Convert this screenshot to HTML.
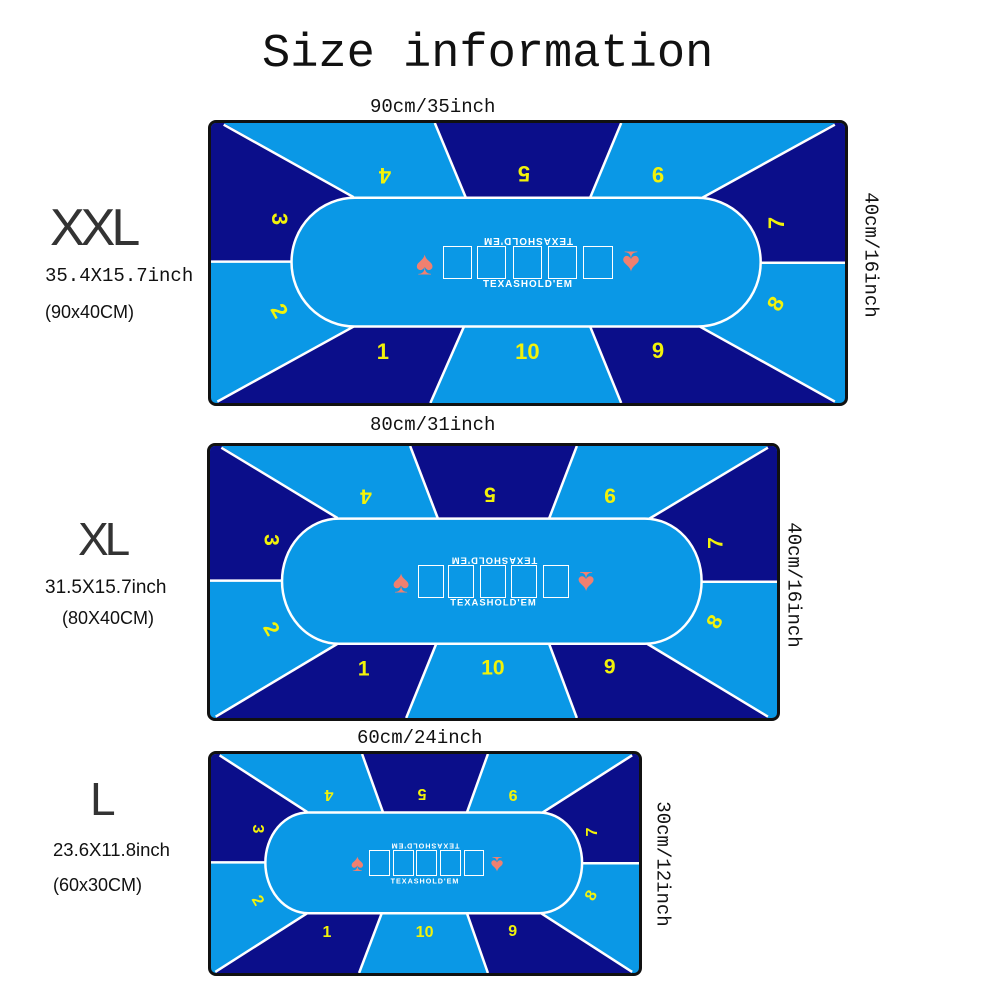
<!DOCTYPE html>
<html><head><meta charset="utf-8"><style>
body{margin:0;background:#fff;width:1000px;height:1000px;position:relative;overflow:hidden;font-family:"Liberation Sans",sans-serif}
.t{position:absolute;white-space:nowrap;color:#111}
.mono{font-family:"Liberation Mono",monospace}
.mat{position:absolute;border:3px solid #111;border-radius:8px;overflow:hidden;background:#0a98e6;box-sizing:border-box}
.mat svg{position:absolute;left:0;top:0;width:100%;height:100%}
.n{position:absolute;color:#f2f20a;font-weight:bold;line-height:1;font-size:var(--f)}
.c{position:absolute;border:1.5px solid #fff;box-sizing:border-box;top:43.9%;height:11.9%}
.sp{position:absolute;color:#f08070;line-height:1;font-size:calc(var(--f)*1.5);top:50%}
.tx{position:absolute;color:#fff;font-weight:bold;letter-spacing:1px;line-height:1;left:50%;font-size:calc(var(--f)*0.45);white-space:nowrap}
.n,.sp,.tx{transform:translate(-50%,-50%) rotate(var(--r,0deg))}
</style></head><body>
<div class="t mono" style="left:262px;top:28px;font-size:47px">Size information</div>
<div class="t mono" style="left:370px;top:96px;font-size:19px">90cm/35inch</div>
<div class="t mono" style="left:370px;top:414px;font-size:19px">80cm/31inch</div>
<div class="t mono" style="left:357px;top:727px;font-size:19px">60cm/24inch</div>
<div class="t mono" style="left:808px;top:244px;font-size:19px;transform:rotate(90deg)">40cm/16inch</div>
<div class="t mono" style="left:731px;top:574px;font-size:19px;transform:rotate(90deg)">40cm/16inch</div>
<div class="t mono" style="left:600px;top:853px;font-size:19px;transform:rotate(90deg)">30cm/12inch</div>
<div class="t" style="left:50px;top:198px;font-size:52px;color:#333;letter-spacing:-4px">XXL</div>
<div class="t mono" style="left:45px;top:265px;font-size:19px">35.4X15.7inch</div>
<div class="t" style="left:45px;top:302px;font-size:18px">(90x40CM)</div>
<div class="t" style="left:78px;top:512px;font-size:46px;color:#333;letter-spacing:-4px">XL</div>
<div class="t" style="left:45px;top:577px;font-size:19px">31.5X15.7inch</div>
<div class="t" style="left:62px;top:608px;font-size:18px">(80X40CM)</div>
<div class="t" style="left:90px;top:772px;font-size:46px;color:#333">L</div>
<div class="t" style="left:53px;top:839px;font-size:18.5px">23.6X11.8inch</div>
<div class="t" style="left:53px;top:875px;font-size:18px">(60x30CM)</div>

<div class="mat" style="left:208px;top:120px;width:640px;height:286px;--f:22px">
<svg viewBox="0 0 1000 1000" preserveAspectRatio="none">
<g fill="#0b0e8a">
<polygon points="0,0 20,0 225,265 225,495 0,495"/>
<polygon points="353,0 647,0 598,267 598,400 402,400 402,267"/>
<polygon points="984,0 1000,0 1000,499 775,499 775,267"/>
<polygon points="598,600 771,600 771,727 984,1000 647,1000 598,727"/>
<polygon points="225,600 399,600 399,727 346,1000 10,1000 225,727"/>
</g>
<g stroke="#fff" stroke-width="2.5" fill="none">
<line x1="20" y1="6" x2="225" y2="265" vector-effect="non-scaling-stroke"/>
<line x1="353" y1="0" x2="402" y2="267" vector-effect="non-scaling-stroke"/>
<line x1="647" y1="0" x2="598" y2="267" vector-effect="non-scaling-stroke"/>
<line x1="984" y1="6" x2="775" y2="267" vector-effect="non-scaling-stroke"/>
<line x1="0" y1="495" x2="130" y2="495" vector-effect="non-scaling-stroke"/>
<line x1="865" y1="499" x2="1000" y2="499" vector-effect="non-scaling-stroke"/>
<line x1="10" y1="995" x2="225" y2="727" vector-effect="non-scaling-stroke"/>
<line x1="346" y1="1000" x2="399" y2="727" vector-effect="non-scaling-stroke"/>
<line x1="647" y1="1000" x2="598" y2="727" vector-effect="non-scaling-stroke"/>
<line x1="984" y1="995" x2="771" y2="727" vector-effect="non-scaling-stroke"/>
</g>
<rect x="127" y="267" width="740" height="460" rx="100" ry="230" fill="#0a98e6" stroke="#fff" stroke-width="2.5" vector-effect="non-scaling-stroke"/>
</svg>
<div class="n" style="left:27.5%;top:18.4%;--r:180deg">4</div>
<div class="n" style="left:49.3%;top:17.8%;--r:180deg">5</div>
<div class="n" style="left:70.5%;top:18.1%;--r:180deg">9</div>
<div class="n" style="left:10.8%;top:34.4%;--r:90deg">3</div>
<div class="n" style="left:89.2%;top:35.6%;--r:-90deg">7</div>
<div class="n" style="left:10.8%;top:67.1%;--r:60deg">2</div>
<div class="n" style="left:89.1%;top:64.7%;--r:-60deg">8</div>
<div class="n" style="left:27.1%;top:81.9%">1</div>
<div class="n" style="left:49.9%;top:81.7%">10</div>
<div class="n" style="left:70.5%;top:81.4%">9</div>
<div class="c" style="left:36.6%;width:4.6%"></div>
<div class="c" style="left:42.0%;width:4.6%"></div>
<div class="c" style="left:47.6%;width:4.6%"></div>
<div class="c" style="left:53.1%;width:4.6%"></div>
<div class="c" style="left:58.7%;width:4.7%"></div>
<div class="sp" style="left:33.7%">♠</div>
<div class="sp" style="left:66.3%;--r:180deg">♠</div>
<div class="tx" style="top:57.8%">TEXASHOLD'EM</div>
<div class="tx" style="top:41.9%;--r:180deg">TEXASHOLD'EM</div>
</div>

<div class="mat" style="left:207px;top:443px;width:573px;height:278px;--f:21px">
<svg viewBox="0 0 1000 1000" preserveAspectRatio="none">
<g fill="#0b0e8a">
<polygon points="0,0 20,0 225,265 225,495 0,495"/>
<polygon points="353,0 647,0 598,267 598,400 402,400 402,267"/>
<polygon points="984,0 1000,0 1000,499 775,499 775,267"/>
<polygon points="598,600 771,600 771,727 984,1000 647,1000 598,727"/>
<polygon points="225,600 399,600 399,727 346,1000 10,1000 225,727"/>
</g>
<g stroke="#fff" stroke-width="2.5" fill="none">
<line x1="20" y1="6" x2="225" y2="265" vector-effect="non-scaling-stroke"/>
<line x1="353" y1="0" x2="402" y2="267" vector-effect="non-scaling-stroke"/>
<line x1="647" y1="0" x2="598" y2="267" vector-effect="non-scaling-stroke"/>
<line x1="984" y1="6" x2="775" y2="267" vector-effect="non-scaling-stroke"/>
<line x1="0" y1="495" x2="130" y2="495" vector-effect="non-scaling-stroke"/>
<line x1="865" y1="499" x2="1000" y2="499" vector-effect="non-scaling-stroke"/>
<line x1="10" y1="995" x2="225" y2="727" vector-effect="non-scaling-stroke"/>
<line x1="346" y1="1000" x2="399" y2="727" vector-effect="non-scaling-stroke"/>
<line x1="647" y1="1000" x2="598" y2="727" vector-effect="non-scaling-stroke"/>
<line x1="984" y1="995" x2="771" y2="727" vector-effect="non-scaling-stroke"/>
</g>
<rect x="127" y="267" width="740" height="460" rx="100" ry="230" fill="#0a98e6" stroke="#fff" stroke-width="2.5" vector-effect="non-scaling-stroke"/>
</svg>
<div class="n" style="left:27.5%;top:18.4%;--r:180deg">4</div>
<div class="n" style="left:49.3%;top:17.8%;--r:180deg">5</div>
<div class="n" style="left:70.5%;top:18.1%;--r:180deg">9</div>
<div class="n" style="left:10.8%;top:34.4%;--r:90deg">3</div>
<div class="n" style="left:89.2%;top:35.6%;--r:-90deg">7</div>
<div class="n" style="left:10.8%;top:67.1%;--r:60deg">2</div>
<div class="n" style="left:89.1%;top:64.7%;--r:-60deg">8</div>
<div class="n" style="left:27.1%;top:81.9%">1</div>
<div class="n" style="left:49.9%;top:81.7%">10</div>
<div class="n" style="left:70.5%;top:81.4%">9</div>
<div class="c" style="left:36.6%;width:4.6%"></div>
<div class="c" style="left:42.0%;width:4.6%"></div>
<div class="c" style="left:47.6%;width:4.6%"></div>
<div class="c" style="left:53.1%;width:4.6%"></div>
<div class="c" style="left:58.7%;width:4.7%"></div>
<div class="sp" style="left:33.7%">♠</div>
<div class="sp" style="left:66.3%;--r:180deg">♠</div>
<div class="tx" style="top:57.8%">TEXASHOLD'EM</div>
<div class="tx" style="top:41.9%;--r:180deg">TEXASHOLD'EM</div>
</div>

<div class="mat" style="left:208px;top:751px;width:434px;height:225px;--f:16px">
<svg viewBox="0 0 1000 1000" preserveAspectRatio="none">
<g fill="#0b0e8a">
<polygon points="0,0 20,0 225,265 225,495 0,495"/>
<polygon points="353,0 647,0 598,267 598,400 402,400 402,267"/>
<polygon points="984,0 1000,0 1000,499 775,499 775,267"/>
<polygon points="598,600 771,600 771,727 984,1000 647,1000 598,727"/>
<polygon points="225,600 399,600 399,727 346,1000 10,1000 225,727"/>
</g>
<g stroke="#fff" stroke-width="2.5" fill="none">
<line x1="20" y1="6" x2="225" y2="265" vector-effect="non-scaling-stroke"/>
<line x1="353" y1="0" x2="402" y2="267" vector-effect="non-scaling-stroke"/>
<line x1="647" y1="0" x2="598" y2="267" vector-effect="non-scaling-stroke"/>
<line x1="984" y1="6" x2="775" y2="267" vector-effect="non-scaling-stroke"/>
<line x1="0" y1="495" x2="130" y2="495" vector-effect="non-scaling-stroke"/>
<line x1="865" y1="499" x2="1000" y2="499" vector-effect="non-scaling-stroke"/>
<line x1="10" y1="995" x2="225" y2="727" vector-effect="non-scaling-stroke"/>
<line x1="346" y1="1000" x2="399" y2="727" vector-effect="non-scaling-stroke"/>
<line x1="647" y1="1000" x2="598" y2="727" vector-effect="non-scaling-stroke"/>
<line x1="984" y1="995" x2="771" y2="727" vector-effect="non-scaling-stroke"/>
</g>
<rect x="127" y="267" width="740" height="460" rx="100" ry="230" fill="#0a98e6" stroke="#fff" stroke-width="2.5" vector-effect="non-scaling-stroke"/>
</svg>
<div class="n" style="left:27.5%;top:18.4%;--r:180deg">4</div>
<div class="n" style="left:49.3%;top:17.8%;--r:180deg">5</div>
<div class="n" style="left:70.5%;top:18.1%;--r:180deg">9</div>
<div class="n" style="left:10.8%;top:34.4%;--r:90deg">3</div>
<div class="n" style="left:89.2%;top:35.6%;--r:-90deg">7</div>
<div class="n" style="left:10.8%;top:67.1%;--r:60deg">2</div>
<div class="n" style="left:89.1%;top:64.7%;--r:-60deg">8</div>
<div class="n" style="left:27.1%;top:81.9%">1</div>
<div class="n" style="left:49.9%;top:81.7%">10</div>
<div class="n" style="left:70.5%;top:81.4%">9</div>
<div class="c" style="left:37.0%;width:4.9%"></div>
<div class="c" style="left:42.5%;width:4.9%"></div>
<div class="c" style="left:48.0%;width:4.9%"></div>
<div class="c" style="left:53.5%;width:4.9%"></div>
<div class="c" style="left:59.0%;width:4.9%"></div>
<div class="sp" style="left:34.2%">♠</div>
<div class="sp" style="left:66.8%;--r:180deg">♠</div>
<div class="tx" style="top:57.8%">TEXASHOLD'EM</div>
<div class="tx" style="top:41.9%;--r:180deg">TEXASHOLD'EM</div>
</div>
</body></html>
